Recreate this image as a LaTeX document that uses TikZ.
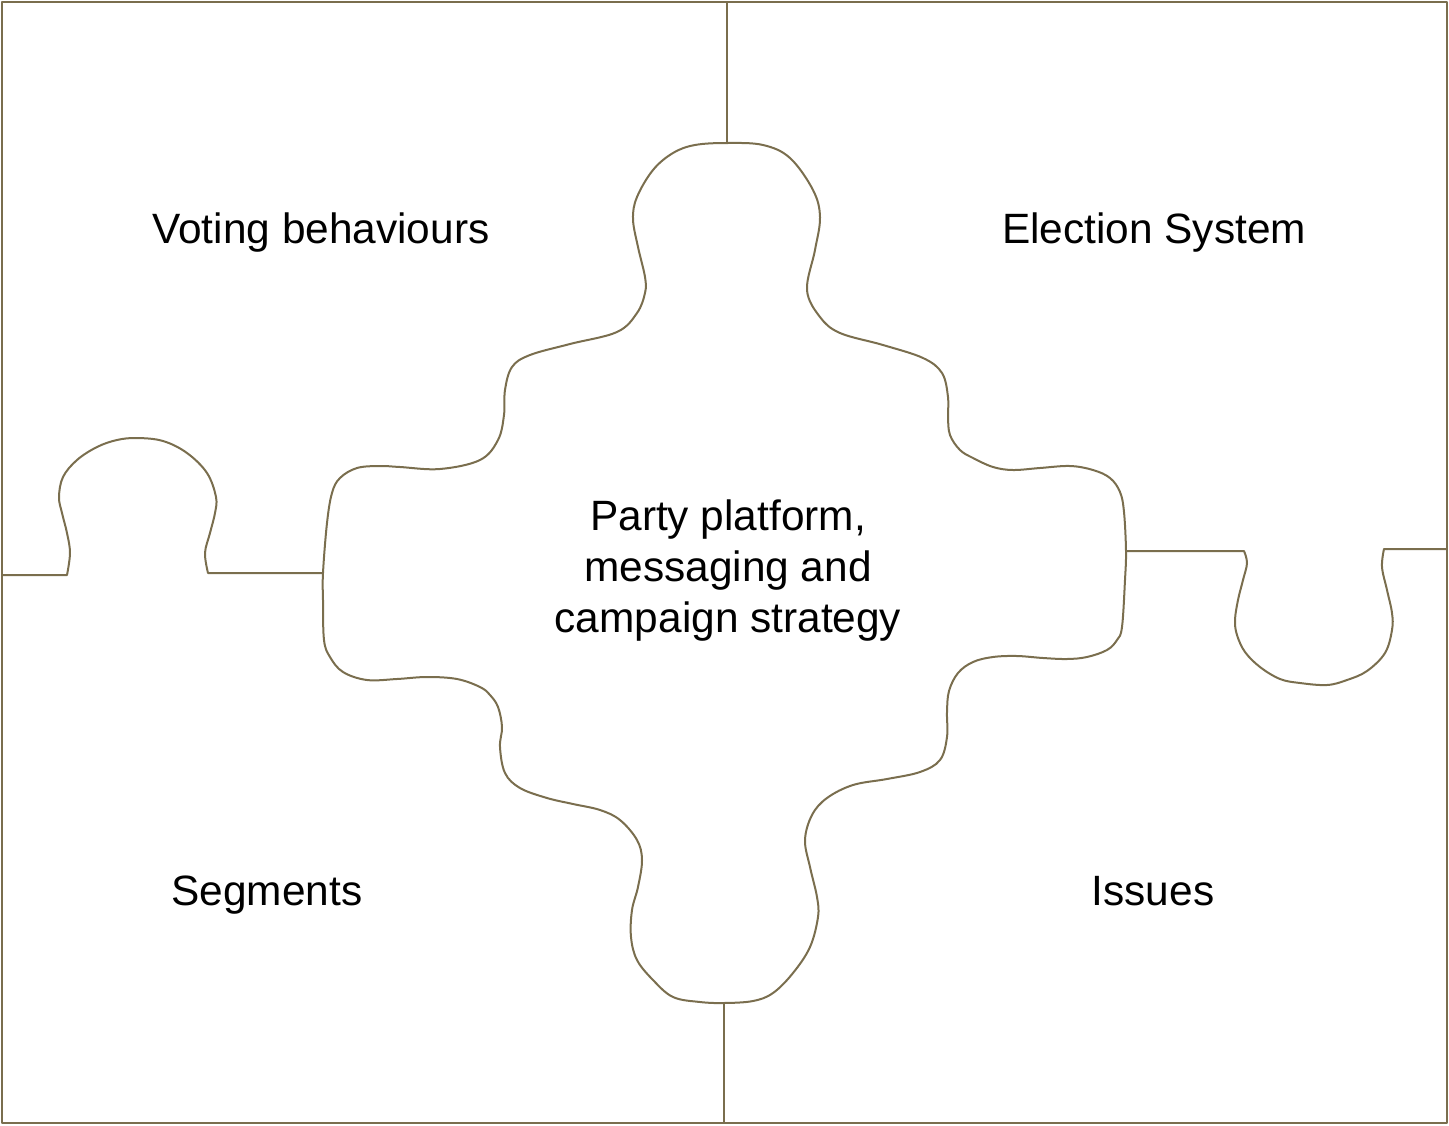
\documentclass[tikz,border=0pt]{standalone}
\usepackage{fontspec}
\setmainfont{Liberation Sans}
\definecolor{piece}{RGB}{122,110,78}
\begin{document}
\begin{tikzpicture}[x=1pt,y=-1pt,
  edge/.style={draw=piece,line width=2pt,line join=round},
  label/.style={inner sep=0pt,font=\fontsize{42.4}{51}\selectfont,text=black}]
\useasboundingbox (0,0) rectangle (1449,1125);

% junction points on the centre piece
\coordinate (jt) at (727,143);
\coordinate (jb) at (724,1003);
\coordinate (jl) at (323,573);
\coordinate (jr) at (1126,551);
% frame points
\coordinate (ft) at (727,1.5);
\coordinate (fb) at (724,1123);
\coordinate (fl) at (2,575);
\coordinate (fr) at (1447,549);

% outer frame
\draw[edge] (2,1.5) rectangle (1447,1123);

% centre piece
\draw[edge] plot[smooth cycle,tension=0.6] coordinates {
  (727,143) (763,145) (790,158) (813,190) (820,217) (815,250) (807,290)
  (820,317) (840,333) (883,345) (923,358) (942,373) (948,397) (948,417)
  (950,435) (960,450) (973,458) (993,467) (1013,470) (1040,468) (1070,466)
  (1093,470) (1110,478) (1120,492) (1124,512) (1126,551) (1125,580)
  (1122,627) (1117,640) (1107,650) (1087,657) (1067,659) (1043,658)
  (1017,656) (993,657) (973,662) (958,673) (949,691) (947,712) (947,737)
  (940,760) (920,772) (887,779) (853,785) (827,798) (812,815) (805,840)
  (810,867) (817,897) (818,917) (810,947) (793,973) (773,993) (753,1001)
  (724,1003) (700,1002) (673,997) (653,980) (637,960) (631,937) (632,910)
  (638,887) (642,860) (637,840) (620,820) (600,810) (573,804) (547,798)
  (520,788) (505,773) (500,747) (502,727) (498,707) (490,695) (480,687)
  (457,679) (427,677) (397,679) (367,680) (343,672) (330,657) (324,640)
  (323,600) (323,573) (327,523) (332,493) (340,478) (357,468) (380,466)
  (400,467) (440,469) (480,460) (498,440) (504,415) (505,390) (512,367)
  (530,355) (570,344) (617,332) (637,313) (645,293) (645,277) (638,247)
  (633,219) (637,197) (653,170) (673,153) (695,145)};

% vertical seams
\draw[edge] (ft) -- (jt);
\draw[edge] (jb) -- (fb);

% left seam with its knob
\draw[edge] (jl) -- (208,573) -- plot[smooth,tension=0.6] coordinates {
  (208,573) (205,553) (210,533) (215,513) (216,497) (207,473) (187,453)
  (163,441) (137,438) (117,440) (97,447) (77,460) (63,477) (59,497)
  (62,513) (67,533) (70,553) (67,575)} -- (fl);

% right seam with its knob
\draw[edge] (jr) -- (1244,551) -- plot[smooth,tension=0.6] coordinates {
  (1244,551) (1247,563) (1243,580) (1238,600) (1235,620) (1237,635)
  (1245,652) (1260,667) (1280,679) (1300,683) (1327,685) (1347,680)
  (1367,671) (1385,653) (1392,630) (1392,613) (1387,590) (1382,567)
  (1384,549)} -- (fr);

% labels
\node[label,anchor=base] (vb) at (321,243) {Voting behaviours};
\node[label,anchor=base] (es) at (1154,243) {Election System};
\node[label,anchor=base] (sg) at (267,905) {Segments};
\node[label,anchor=base] (is) at (1153,905) {Issues};
\node[label,align=center] (pp) at (728,571)
  {Party platform,\\messaging and\\campaign strategy};
\end{tikzpicture}
\end{document}
